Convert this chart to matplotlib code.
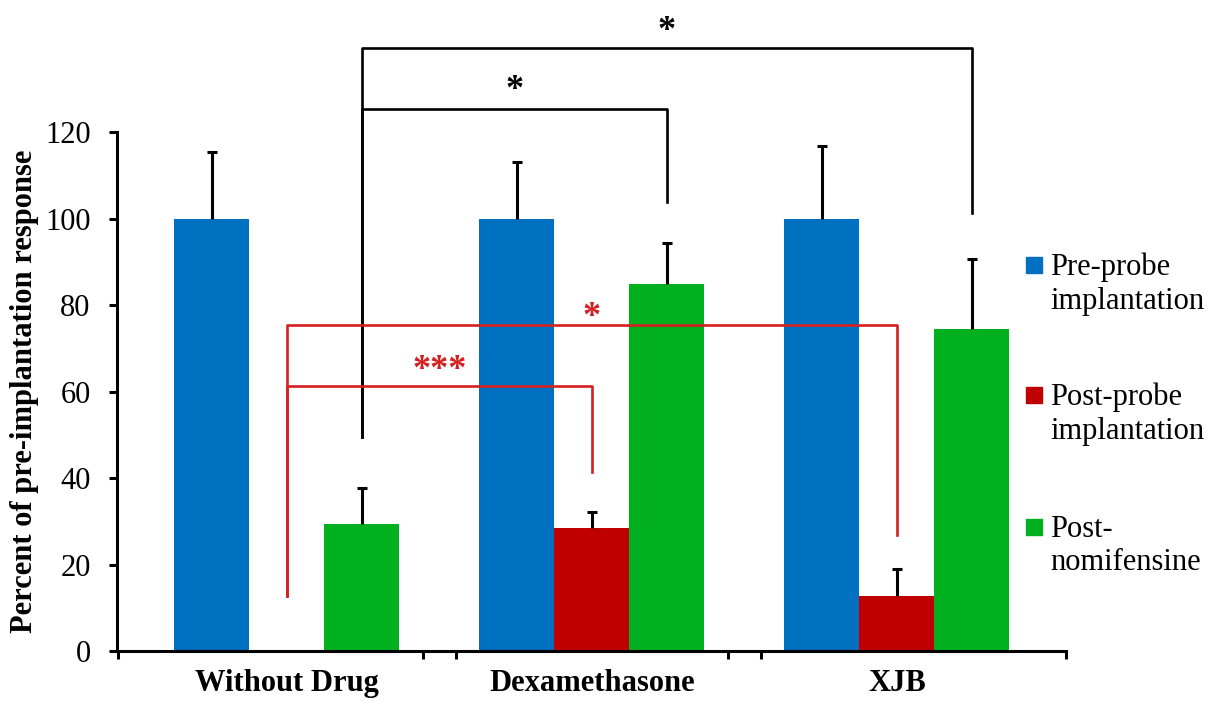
import numpy as np
import matplotlib
matplotlib.use('Agg')
import matplotlib.pyplot as plt

plt.rcParams['font.family'] = ['Liberation Serif', 'DejaVu Serif']

# Data
groups = ['Without Drug', 'Dexamethasone', 'XJB']
series = ['Pre-probe\nimplantation', 'Post-probe\nimplantation', 'Post-\nnomifensine']
colors = ['#0070C0', '#C00000', '#00B01E']
pre_probe = [100, 100, 100]
pre_probe_err = [15.5, 13.2, 16.8]
post_probe = [0, 28.5, 12.8]
post_probe_err = [0, 3.7, 6.3]
post_nomi = [29.4, 84.9, 74.6]
post_nomi_err = [8.4, 9.5, 16.2]

# Significance brackets: (group, series) of both ends, bracket level, drop ends
sig_left = [(0, 2), (0, 2), (0, 1), (0, 1)]
sig_right = [(1, 2), (2, 2), (1, 1), (2, 1)]
sig_level = [125.4, 139.5, 61.3, 75.4]
sig_left_end = [49.6, 49.6, 12.8, 12.8]
sig_right_end = [103.9, 101.4, 41.5, 26.9]
sig_text = ['*', '*', '***', '*']
sig_text_y = [125.8, 139.6, 61.0, 73.4]
sig_color = ['black', 'black', '#D42020', '#D42020']

values = [pre_probe, post_probe, post_nomi]
errors = [pre_probe_err, post_probe_err, post_nomi_err]

fig = plt.figure(figsize=(12.1, 7.02), dpi=100)
ax = fig.add_axes([117 / 1210, 1 - 651.3 / 702, 949 / 1210, 648.75 / 702])

w = 75 / 305
x = np.arange(len(groups))
offsets = [-w, 0, w]


def bar_x(g, s):
    return x[g] + offsets[s]


for s in range(3):
    xs = x + offsets[s]
    ax.bar(xs, values[s], width=w, color=colors[s], zorder=2)
    for i in range(len(groups)):
        if errors[s][i] > 0:
            _, caps, _ = ax.errorbar(xs[i], values[s][i],
                                     yerr=[[0], [errors[s][i]]],
                                     color='black', elinewidth=2.2,
                                     capsize=3.5, capthick=2.2, zorder=3)
            # only the upper cap is drawn in the original
            for c in caps:
                if np.allclose(c.get_ydata(), values[s][i]):
                    c.set_visible(False)

for i in range(len(sig_text)):
    xl = bar_x(*sig_left[i])
    xr = bar_x(*sig_right[i])
    lv = sig_level[i]
    ax.plot([xl, xl, xr, xr], [sig_left_end[i], lv, lv, sig_right_end[i]],
            color=sig_color[i], lw=1.9, clip_on=False, zorder=4)
    ax.text((xl + xr) / 2, sig_text_y[i], sig_text[i], color=sig_color[i],
            ha='center', va='bottom', fontsize=26, fontweight='bold',
            clip_on=False)

# Axes styling
ax.set_xlim(-0.557, 2.555)
ax.set_ylim(0, 150)
for sp in ['top', 'right']:
    ax.spines[sp].set_visible(False)
ax.spines['left'].set_bounds(0, 120)
ax.spines['left'].set_linewidth(2.2)
ax.spines['bottom'].set_linewidth(2.2)
ax.set_yticks(np.arange(0, 121, 20))
ax.tick_params(axis='y', labelsize=22, width=2.2, length=6, pad=13)
ax.set_xticks([-0.555, 0.445, 0.555, 1.445, 1.555, 2.555])
ax.set_xticklabels([])
ax.set_xticks(x, minor=True)
ax.set_xticklabels(groups, minor=True, fontsize=22, fontweight='bold')
ax.tick_params(axis='x', which='major', width=2.2, length=6)
ax.tick_params(axis='x', which='minor', length=0, pad=13)
ax.set_ylabel('Percent of pre-implantation response', fontsize=22,
              fontweight='bold')
ax.yaxis.set_label_coords(-0.082, 0.4)

# Legend drawn on the right
leg_y = [1 - 265 / 702, 1 - 395 / 702, 1 - 527 / 702]
for s in range(3):
    ax.plot([1034 / 1210], [leg_y[s]], 's', color=colors[s], markersize=11,
            transform=fig.transFigure, clip_on=False)
    fig.text(1050 / 1210, leg_y[s] + 12 / 702, series[s], fontsize=22,
             ha='left', va='top', linespacing=1.2)

fig.savefig('out.png', dpi=100)
